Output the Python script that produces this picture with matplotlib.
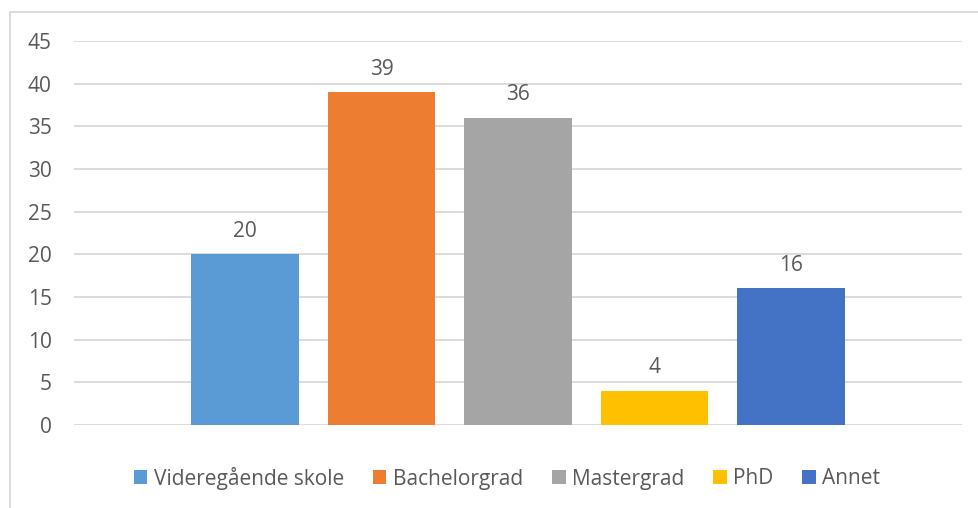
import matplotlib.pyplot as plt
from matplotlib.patches import Rectangle

# Data
categories = ['Videregående skole', 'Bachelorgrad', 'Mastergrad', 'PhD', 'Annet']
values = [20, 39, 36, 4, 16]
colors = ['#5B9BD5', '#ED7D31', '#A5A5A5', '#FFC000', '#4472C4']
yticks = [0, 5, 10, 15, 20, 25, 30, 35, 40, 45]

plt.rcParams['font.family'] = ['Open Sans', 'DejaVu Sans']
text_color = '#595959'

fig = plt.figure(figsize=(9.79, 5.08), dpi=100)
ax = fig.add_axes([74 / 979, 1 - 425 / 508, 888 / 979, 384 / 508])

# chart frame (only left and top visible in the crop)
fig.patches.append(Rectangle((10 / 979, -0.1), 1.2, (1 - 12 / 508) + 0.1,
                             transform=fig.transFigure, fill=False,
                             edgecolor='#D9D9D9', linewidth=1.3))

offsets = [-2, -1, 0, 1, 2]
for off, cat, val, col in zip(offsets, categories, values, colors):
    bars = ax.bar(off, val, width=0.79, color=col, label=cat, zorder=3)
    ax.bar_label(bars, padding=9, fontsize=15, color=text_color)

ax.set_xlim(-3.253, 3.253)
ax.set_ylim(0, 45)
ax.set_yticks(yticks)
ax.set_xticks([])
ax.tick_params(axis='y', length=0, pad=16, labelsize=15, labelcolor=text_color)
ax.grid(axis='y', color='#D9D9D9', linewidth=1.3, zorder=0)
for s in ax.spines.values():
    s.set_visible(False)

fig.legend(loc='center', bbox_to_anchor=(507 / 979, 1 - 478 / 508), ncol=5,
           frameon=False, fontsize=15, labelcolor=text_color,
           handlelength=0.65, handleheight=0.65, handletextpad=0.3,
           columnspacing=1.4)

fig.savefig('out.png', dpi=100)
